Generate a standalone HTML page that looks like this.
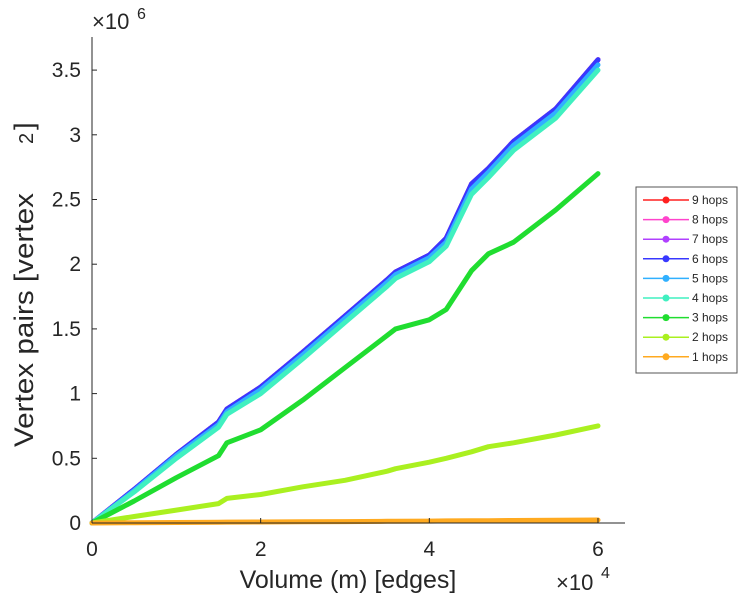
<!DOCTYPE html>
<html><head><meta charset="utf-8"><style>
body{margin:0;background:#fff;}
svg text{font-family:"Liberation Sans",sans-serif;fill:#262626;}
</style></head><body>
<svg id="chart" width="749" height="600" xmlns="http://www.w3.org/2000/svg">
<g id="plot"></g>
<g id="axes">
<line x1="92" y1="37" x2="92" y2="523" stroke="#262626" stroke-width="1"/>
<line x1="92" y1="523" x2="625" y2="523" stroke="#262626" stroke-width="1"/>
</g>
<text x="92" y="29" font-size="22">×10</text>
<text x="137" y="19" font-size="16">6</text>
<text x="556" y="590" font-size="22">×10</text>
<text x="601" y="578" font-size="16">4</text>
<text x="348" y="588" font-size="25" text-anchor="middle">Volume (m) [edges]</text>
<text transform="translate(33,447) rotate(-90)" font-size="27" textLength="254" lengthAdjust="spacingAndGlyphs">Vertex pairs [vertex</text>
<text transform="translate(33,144) rotate(-90)" font-size="20">2</text>
<text transform="translate(33,130) rotate(-90)" font-size="27">]</text>
<g id="legend">
<rect x="636" y="187" width="101" height="186" fill="#fff" stroke="#555" stroke-width="1"/>
</g>
</svg>
<script>
const xTicks=[0,2,4,6];
const yTicks=[0,0.5,1,1.5,2,2.5,3,3.5];
const yTickLabels=["0","0.5","1","1.5","2","2.5","3","3.5"];
const seriesNames=["9 hops","8 hops","7 hops","6 hops","5 hops","4 hops","3 hops","2 hops","1 hops"];
const seriesColors=["#ff2020","#ff44cc","#b040ff","#3838ff","#30b0ff","#40f0c0","#20dd30","#aaf020","#ffaa20"];
const xs=[0,0.5,1,1.5,1.6,2,2.5,3,3.5,3.6,4,4.2,4.5,4.7,5,5.5,6];
const hop6=[0,0.26,0.53,0.78,0.88,1.05,1.32,1.6,1.88,1.94,2.07,2.2,2.62,2.74,2.95,3.2,3.58];
const hop5=[0,0.25,0.52,0.76,0.86,1.03,1.3,1.58,1.86,1.92,2.05,2.17,2.58,2.71,2.92,3.17,3.54];
const hop4=[0,0.24,0.5,0.74,0.84,1.0,1.27,1.55,1.83,1.89,2.02,2.14,2.54,2.67,2.88,3.13,3.5];
const hop3=[0,0.17,0.35,0.52,0.62,0.72,0.95,1.2,1.45,1.5,1.57,1.65,1.95,2.08,2.17,2.42,2.7];
const hop2=[0,0.05,0.1,0.15,0.19,0.22,0.28,0.33,0.4,0.42,0.47,0.5,0.55,0.59,0.62,0.68,0.75];
const hop1=[0,0.002,0.004,0.006,0.007,0.008,0.01,0.011,0.013,0.014,0.015,0.016,0.017,0.018,0.019,0.021,0.023];
const seriesData=[hop6,hop6,hop6,hop6,hop5,hop4,hop3,hop2,hop1];
const NS="http://www.w3.org/2000/svg";
function X(v){return 92+v*84.33;}
function Y(v){return 523-v*129.4;}
const plot=document.getElementById('plot');
const axes=document.getElementById('axes');
function mk(tag,attrs,parent){const e=document.createElementNS(NS,tag);for(const k in attrs)e.setAttribute(k,attrs[k]);parent.appendChild(e);return e;}
xTicks.forEach(t=>{
 const l=mk('line',{x1:X(t),x2:X(t),y1:523,y2:518,stroke:'#262626'},axes);
 
 
 const tx=mk('text',{x:X(t),y:556,'font-size':21,'text-anchor':'middle'},axes);
 tx.textContent=t;
 
 
});
yTicks.forEach((t,i)=>{
 const l=mk('line',{x1:92,x2:97,y1:Y(t),y2:Y(t),stroke:'#262626'},axes);
 
 
 const tx=mk('text',{x:81,y:Y(t)+7,'font-size':21,'text-anchor':'end'},axes);
 tx.textContent=yTickLabels[i];
 
 
});
for(let s=0;s<seriesData.length;s++){
 const d=seriesData[s];
 const pts=xs.map((x,i)=>X(x).toFixed(1)+','+Y(d[i]).toFixed(1)).join(' ');
 const p=mk('polyline',{points:pts,fill:'none',stroke:seriesColors[s],'stroke-width':5,'stroke-linejoin':'round','stroke-linecap':'round'},plot);
 
 
}
const leg=document.getElementById('legend');
seriesNames.forEach((n,i)=>{
 const y=200+i*19.6;
 const l=mk('line',{x1:643,x2:689,y1:y,y2:y,stroke:seriesColors[i],'stroke-width':1.5},leg);
 
 
 const m=mk('circle',{cx:666,cy:y,r:3.5,fill:seriesColors[i]},leg);
 
 
 const t=mk('text',{x:692,y:y+4,'font-size':12},leg);
 t.textContent=n;
 
 
});
</script>
</body></html>
